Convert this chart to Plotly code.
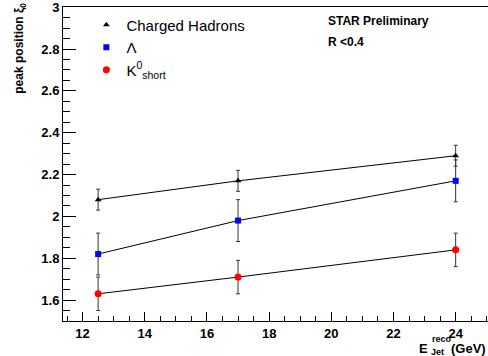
import plotly.graph_objects as go

energy = [12.5, 17.0, 24.0]
hadrons = [2.08, 2.17, 2.29]
hadrons_err = [0.05, 0.05, 0.05]
lam = [1.82, 1.98, 2.17]
lam_err = [0.10, 0.10, 0.10]
k0 = [1.63, 1.71, 1.84]
k0_err = [0.08, 0.08, 0.08]

x_ticks = [12, 14, 16, 18, 20, 22, 24]
y_ticks = [1.6, 1.8, 2.0, 2.2, 2.4, 2.6, 2.8, 3.0]
y_tick_labels = ["1.6", "1.8", "2", "2.2", "2.4", "2.6", "2.8", "3"]

series = [
    ("Charged Hadrons", hadrons, hadrons_err, "black", "triangle-up", 6),
    ("Λ", lam, lam_err, "#0000ff", "square", 6),
    ("K<sup>0</sup><sub>short</sub>", k0, k0_err, "#ff0000", "circle", 7),
]

fig = go.Figure()
for name, ys, es, col, sym, sz in series:
    fig.add_trace(go.Scatter(
        x=energy, y=ys, mode="lines+markers", showlegend=False,
        line=dict(color="black", width=1),
        marker=dict(color=col, symbol=sym, size=sz),
        error_y=dict(type="data", array=es, color="#333333", thickness=1, width=2),
    ))
for name, ys, es, col, sym, sz in series:
    fig.add_trace(go.Scatter(
        x=[None], y=[None], mode="markers", name=name,
        marker=dict(color=col, symbol=sym, size=sz),
    ))

tf = dict(family="Liberation Sans", size=13, color="black")

# pixel helpers for the plot frame (63..488 x, 7..321 y)
def px(x):
    return (x - 63) / 425.0

def py(y):
    return (321 - y) / 314.0

fig.update_layout(
    width=488, height=356,
    margin=dict(l=63, r=0, t=7, b=35),
    paper_bgcolor="white", plot_bgcolor="white",
    font=dict(family="Liberation Sans", color="black"),
    showlegend=True,
    legend=dict(x=0.055, y=0.995, xanchor="left", yanchor="top",
                font=dict(size=15, family="Liberation Sans"),
                bgcolor="rgba(0,0,0,0)", tracegroupgap=0, itemwidth=30),
    xaxis=dict(range=[11.37, 25.04], showgrid=False, zeroline=False,
               showline=True, linecolor="black", linewidth=1, mirror=True,
               ticks="inside", ticklen=9, tickcolor="black",
               tickvals=x_ticks, ticktext=["<b>%d</b>" % v for v in x_ticks],
               minor=dict(ticks="inside", ticklen=5, dtick=0.5, tick0=12, tickcolor="black", showgrid=False),
               tickfont=tf),
    yaxis=dict(range=[1.5, 3.001], showgrid=False, zeroline=False,
               showline=True, linecolor="black", linewidth=1, mirror=False,
               ticks="inside", ticklen=13, tickcolor="black",
               tickvals=y_ticks, ticktext=["<b>%s</b>" % t for t in y_tick_labels],
               ticklabeloverflow="allow",
               minor=dict(ticks="inside", ticklen=7, dtick=0.05, tick0=1.6, tickcolor="black", showgrid=False),
               tickfont=tf),
    annotations=[
        dict(text="<b>STAR Preliminary</b>", xref="paper", yref="paper", x=0.618, y=0.985,
             xanchor="left", yanchor="top", showarrow=False, font=dict(size=12)),
        dict(text="<b>R <0.4</b>", xref="paper", yref="paper", x=0.618, y=0.918,
             xanchor="left", yanchor="top", showarrow=False, font=dict(size=12)),
        dict(text="<b>E</b>", xref="paper", yref="paper", x=px(417), y=py(348),
             xanchor="left", yanchor="middle", showarrow=False, font=dict(size=13)),
        dict(text="<b>reco</b>", xref="paper", yref="paper", x=px(430), y=py(339),
             xanchor="left", yanchor="middle", showarrow=False, font=dict(size=9)),
        dict(text="<b>Jet</b>", xref="paper", yref="paper", x=px(429), y=py(352),
             xanchor="left", yanchor="middle", showarrow=False, font=dict(size=9)),
        dict(text="<b>(GeV)</b>", xref="paper", yref="paper", x=1.0, y=py(348),
             xanchor="right", yanchor="middle", showarrow=False, font=dict(size=13)),
        dict(text="<b>peak position ξ<sub>0</sub></b>", xref="paper", yref="paper",
             x=-0.1, y=1.02, xanchor="center", yanchor="top", textangle=-90,
             showarrow=False, font=dict(size=12)),
    ],
)

fig.write_html("out.html")
